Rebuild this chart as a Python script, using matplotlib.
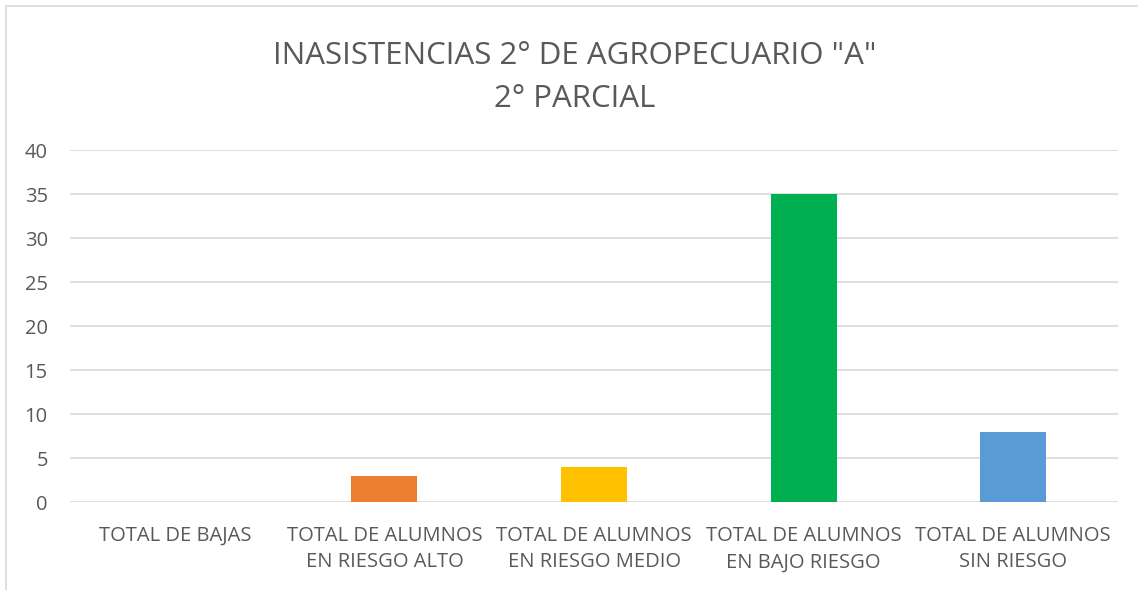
import matplotlib
matplotlib.use("Agg")
import matplotlib.pyplot as plt
from matplotlib.patches import Rectangle

categories = ["TOTAL DE BAJAS", "TOTAL DE ALUMNOS\nEN RIESGO ALTO", "TOTAL DE ALUMNOS\nEN RIESGO MEDIO",
              "TOTAL DE ALUMNOS\nEN BAJO RIESGO", "TOTAL DE ALUMNOS\nSIN RIESGO"]
values = [0, 3, 4, 35, 8]
colors = ["#4472C4", "#ED7D31", "#FFC000", "#00B050", "#5B9BD5"]
yticks = [0, 5, 10, 15, 20, 25, 30, 35, 40]

plt.rcParams['font.family'] = ['Open Sans', 'DejaVu Sans']
text_col = '#595959'

fig = plt.figure(figsize=(11.38, 5.9), dpi=100)
ax = fig.add_axes([70/1138, 1 - 502/590, 1048/1138, 352/590])

x = list(range(len(categories)))
ax.bar(x, values, width=0.315, color=colors, zorder=3)
ax.set_xlim(-0.5, len(categories) - 0.5)
ax.set_ylim(0, 40)
ax.set_yticks(yticks)
ax.set_xticks(x)
ax.set_xticklabels(categories, fontsize=14.5, color=text_col, linespacing=1.45)
ax.tick_params(axis='y', labelsize=14.5, labelcolor=text_col, length=0, pad=16)
ax.tick_params(axis='x', length=0, pad=17)
ax.grid(axis='y', color='#D9D9D9', linewidth=1.2, zorder=0)
for s in ax.spines.values():
    s.set_visible(False)

fig.text(575/1138, 1 - 56/590, 'INASISTENCIAS 2° DE AGROPECUARIO "A"', ha='center', va='center',
         fontsize=22.5, color=text_col)
fig.text(575/1138, 1 - 99/590, '2° PARCIAL', ha='center', va='center',
         fontsize=22.5, color=text_col)

# chart area border
fig.patches.append(Rectangle((6/1138, -0.05), 1.2, 1 - 6/590 + 0.05, transform=fig.transFigure,
                             fill=False, edgecolor='#D9D9D9', linewidth=1.2))

fig.savefig("out.png", dpi=100)
